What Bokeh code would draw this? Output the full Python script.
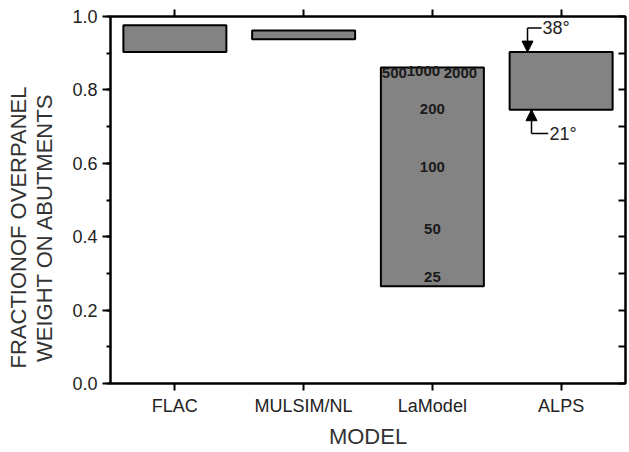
from bokeh.plotting import figure
from bokeh.models import (FactorRange, Range1d, SingleIntervalTicker, LinearAxis,
                          CategoricalAxis, Arrow, NormalHead, PrintfTickFormatter,
                          CustomJSTickFormatter)
from bokeh.core.properties import value
from bokeh.embed import file_html
from bokeh.resources import INLINE

# ---------------- data ----------------
models = ["FLAC", "MULSIM/NL", "LaModel", "ALPS"]
range_top = [0.976, 0.962, 0.861, 0.903]
range_bottom = [0.903, 0.938, 0.265, 0.746]

lamodel_labels = ["500", "1000", "2000", "200", "100", "50", "25"]
lamodel_label_y = [0.845, 0.851, 0.845, 0.747, 0.589, 0.420, 0.289]

alps_angle_labels = ["38°", "21°"]
alps_angle_y = [0.969, 0.681]

y_title_lines = ["FRACTIONOF OVERPANEL", "WEIGHT ON ABUTMENTS"]
x_title = "MODEL"

# ---------------- layout / style constants ----------------
FONT = "Liberation Sans"
lamodel_dx_px = [-38, -9, 28, 0, 0, 0, 0]
NBSP_PAD = "\u00a0" * 9   # shifts the centred y title down to match reference

p = figure(width=629, height=452,
           x_range=FactorRange(*models, range_padding=0),
           y_range=Range1d(0, 1),
           output_backend="svg", toolbar_location=None,
           min_border_left=110, min_border_right=4,
           min_border_top=16, min_border_bottom=69)
p.xgrid.visible = False
p.ygrid.visible = False
p.outline_line_color = "black"
p.outline_line_width = 2
p.background_fill_color = "white"
p.border_fill_color = "white"

# left axis
ya = p.yaxis[0]
ya.ticker = SingleIntervalTicker(interval=0.2, num_minor_ticks=2)
ya.formatter = PrintfTickFormatter(format="%.1f")
ya.axis_line_width = 2
ya.major_tick_line_width = 2
ya.minor_tick_line_width = 2
ya.major_tick_in = 0
ya.major_tick_out = 8
ya.minor_tick_in = 0
ya.minor_tick_out = 4
ya.major_label_standoff = 5
ya.major_label_text_font = FONT
ya.major_label_text_font_size = "18px"
ya.major_label_text_color = "#222222"
ya.axis_label = "\n".join(line + NBSP_PAD for line in y_title_lines)
ya.axis_label_text_font = FONT
ya.axis_label_text_font_size = "22px"
ya.axis_label_text_font_style = "normal"
ya.axis_label_text_color = "#333333"
ya.axis_label_standoff = 12
ya.axis_label_text_line_height = 1.05

# bottom axis
xa = p.xaxis[0]
xa.axis_line_width = 2
xa.major_tick_line_width = 2
xa.major_tick_in = 0
xa.major_tick_out = 7
xa.major_label_standoff = 5
xa.major_label_text_font = FONT
xa.major_label_text_font_size = "18px"
xa.major_label_text_color = "#222222"
xa.axis_label = x_title
xa.axis_label_text_font = FONT
xa.axis_label_text_font_size = "22px"
xa.axis_label_text_font_style = "normal"
xa.axis_label_text_color = "#333333"
xa.axis_label_standoff = 5

# top axis (ticks only)
top_axis = CategoricalAxis(axis_line_width=2, major_tick_line_width=2,
                           major_tick_in=0, major_tick_out=7,
                           formatter=CustomJSTickFormatter(code="return ''"),
                           major_label_text_font_size="1px",
                           major_label_standoff=0)
p.add_layout(top_axis, "above")

# right axis (inward ticks only)
right_axis = LinearAxis(ticker=SingleIntervalTicker(interval=0.1, num_minor_ticks=0),
                        formatter=CustomJSTickFormatter(code="return ''"),
                        axis_line_width=2, major_tick_line_width=2,
                        major_tick_in=7, major_tick_out=0,
                        minor_tick_in=0, minor_tick_out=0,
                        major_label_text_font_size="1px",
                        major_label_standoff=0)
p.add_layout(right_axis, "right")

# range bars
p.vbar(x=models, top=range_top, bottom=range_bottom, width=0.8,
       fill_color="#838383", line_color="black", line_width=2)

# LaModel labels
p.text(x=["LaModel"] * len(lamodel_labels), y=lamodel_label_y, text=lamodel_labels,
       x_offset=lamodel_dx_px, text_align="center", text_baseline="middle",
       text_font=value(FONT), text_font_style="bold", text_font_size="15px",
       text_color="#1a1a1a")

# ALPS angle annotations
alps_i = models.index("ALPS")
alps_c = alps_i + 0.5
top_arrow_x = alps_c - 0.261
bot_arrow_x = alps_c - 0.23

p.add_layout(Arrow(end=NormalHead(size=11, fill_color="black", line_color="black"),
                   x_start=top_arrow_x, y_start=alps_angle_y[0],
                   x_end=top_arrow_x, y_end=range_top[alps_i], line_width=1.5))
p.add_layout(Arrow(end=NormalHead(size=11, fill_color="black", line_color="black"),
                   x_start=bot_arrow_x, y_start=alps_angle_y[1],
                   x_end=bot_arrow_x, y_end=range_bottom[alps_i], line_width=1.5))
p.segment(x0=[top_arrow_x, bot_arrow_x], y0=alps_angle_y,
          x1=[alps_c - 0.152, alps_c - 0.10], y1=alps_angle_y,
          line_color="black", line_width=1.5)
p.text(x=[alps_c - 0.145, alps_c - 0.09], y=alps_angle_y, text=alps_angle_labels,
       text_align="left", text_baseline="middle",
       text_font=value(FONT), text_font_size="18px", text_color="#222222")

open("out.html", "w").write(file_html(p, INLINE))
